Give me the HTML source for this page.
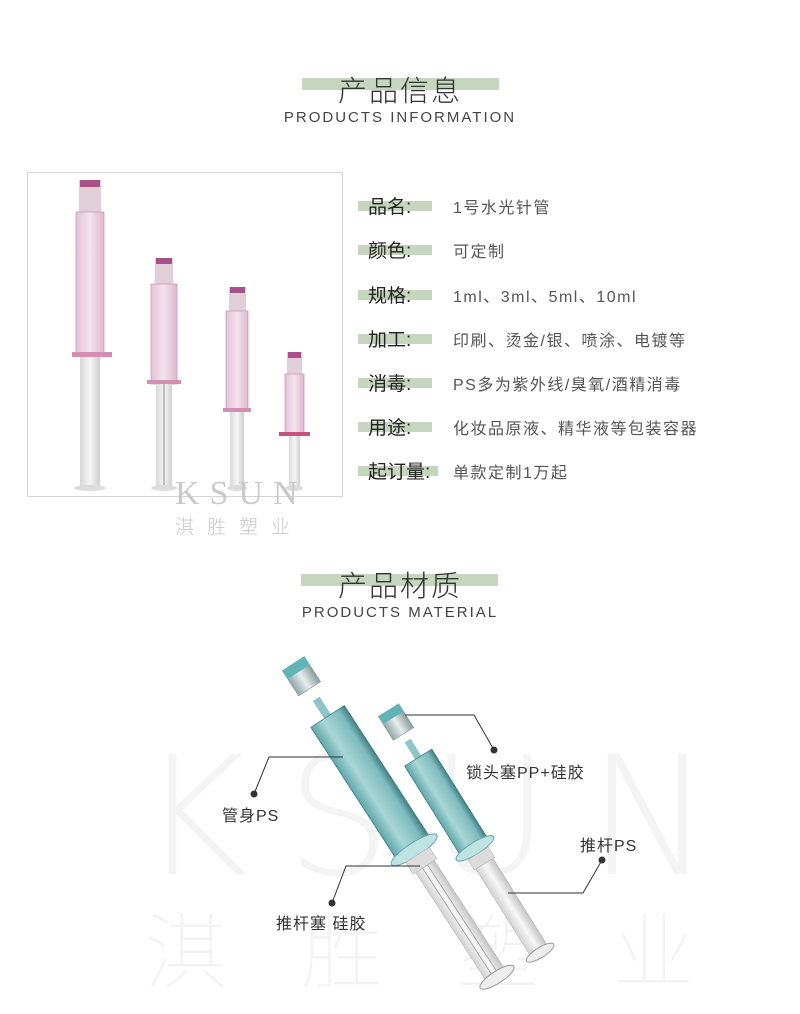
<!DOCTYPE html>
<html><head><meta charset="utf-8">
<style>
*{margin:0;padding:0;box-sizing:border-box}
body{width:800px;height:1014px;background:#fff;position:relative;overflow:hidden;font-family:"Liberation Sans","Noto Sans CJK SC",sans-serif}
.abs{position:absolute}
.bar{position:absolute;background:#c6d5bd}
.title{position:absolute;left:0;width:800px;text-align:center;font-size:29px;color:#333;letter-spacing:2px;font-weight:300}
.sub{position:absolute;left:0;width:800px;text-align:center;font-size:15px;color:#444;letter-spacing:2px}
.lbl{position:absolute;left:368px;font-size:19px;color:#222;white-space:nowrap}
.lb{position:absolute;left:358px;width:74px;height:10px;background:#c6d5bd}
.val{position:absolute;left:453px;font-size:16px;color:#555;letter-spacing:1.5px;white-space:nowrap}
.wm{position:absolute;color:#f3f3f3;font-weight:100}
.cap{position:absolute;font-size:16px;color:#333;white-space:nowrap;letter-spacing:1px}
</style></head><body>

<div class="bar" style="left:302px;top:78px;width:197px;height:12px"></div>
<div class="title" style="top:68px">产品信息</div>
<div class="sub" style="top:109px">PRODUCTS INFORMATION</div>

<div class="abs" style="left:27px;top:172px;width:316px;height:325px;border:1px solid #d4d4d4"></div>
<svg class="abs" style="left:27px;top:172px" width="316" height="370" viewBox="0 0 316 370">
 <defs>
  <linearGradient id="pk" x1="0" x2="1"><stop offset="0" stop-color="#e3c3d6"/><stop offset=".5" stop-color="#f4e2ec"/><stop offset="1" stop-color="#dcb8cc"/></linearGradient>
  <linearGradient id="cl" x1="0" x2="1"><stop offset="0" stop-color="#d8d8d8"/><stop offset=".5" stop-color="#f6f6f6"/><stop offset="1" stop-color="#cfcfcf"/></linearGradient>
 </defs>
 <!-- syringe 1 -->
 <rect x="52" y="8" width="22" height="32" fill="#e0cfd8"/><rect x="53" y="8" width="20" height="7" fill="#a8508a"/>
 <rect x="49" y="40" width="28" height="144" fill="url(#pk)" stroke="#c99ab6" stroke-width=".8"/>
 <rect x="45" y="180" width="40" height="5" fill="#d58db0"/>
 <rect x="53" y="185" width="20" height="130" fill="url(#cl)"/>
 <ellipse cx="63" cy="316" rx="16" ry="3" fill="#ddd"/>
 <!-- syringe 2 -->
 <rect x="128" y="86" width="18" height="26" fill="#e0cfd8"/><rect x="129" y="86" width="16" height="6" fill="#a8508a"/>
 <rect x="124" y="112" width="26" height="100" fill="url(#pk)" stroke="#c99ab6" stroke-width=".8"/>
 <rect x="120" y="208" width="34" height="4" fill="#d58db0"/>
 <rect x="129" y="212" width="16" height="104" fill="url(#cl)"/>
 <line x1="137" y1="212" x2="137" y2="314" stroke="#888" stroke-width="1"/>
 <ellipse cx="137" cy="316" rx="13" ry="3" fill="#ddd"/>
 <!-- syringe 3 -->
 <rect x="202" y="115" width="17" height="24" fill="#e0cfd8"/><rect x="203" y="115" width="15" height="6" fill="#a8508a"/>
 <rect x="199" y="139" width="22" height="100" fill="url(#pk)" stroke="#c99ab6" stroke-width=".8"/>
 <rect x="196" y="236" width="28" height="4" fill="#d58db0"/>
 <rect x="203" y="240" width="14" height="76" fill="url(#cl)"/>
 <ellipse cx="210" cy="316" rx="10" ry="3" fill="#ddd"/>
 <!-- syringe 4 -->
 <rect x="260" y="180" width="15" height="22" fill="#e0cfd8"/><rect x="261" y="180" width="13" height="6" fill="#a8508a"/>
 <rect x="258" y="202" width="19" height="60" fill="url(#pk)" stroke="#c99ab6" stroke-width=".8"/>
 <rect x="252" y="260" width="31" height="4" fill="#c8507f"/>
 <rect x="262" y="264" width="11" height="52" fill="url(#cl)"/>
 <ellipse cx="267" cy="316" rx="9" ry="3" fill="#ddd"/>
 <text x="148" y="332" font-family="Liberation Serif,serif" font-size="34" fill="#c9c9c9" letter-spacing="10">KSUN</text>
 <text x="148" y="361" font-family="Noto Sans CJK SC,sans-serif" font-size="19" fill="#c9c9c9" letter-spacing="13" font-weight="300">淇胜塑业</text>
</svg>

<div class="lb" style="top:201px"></div><div class="lbl" style="top:192px">品名:</div><div class="val" style="top:194px">1号水光针管</div>
<div class="lb" style="top:245px"></div><div class="lbl" style="top:236px">颜色:</div><div class="val" style="top:238px">可定制</div>
<div class="lb" style="top:290px"></div><div class="lbl" style="top:281px">规格:</div><div class="val" style="top:283px">1ml、3ml、5ml、10ml</div>
<div class="lb" style="top:334px"></div><div class="lbl" style="top:325px">加工:</div><div class="val" style="top:327px">印刷、烫金/银、喷涂、电镀等</div>
<div class="lb" style="top:378px"></div><div class="lbl" style="top:369px">消毒:</div><div class="val" style="top:371px">PS多为紫外线/臭氧/酒精消毒</div>
<div class="lb" style="top:422px"></div><div class="lbl" style="top:413px">用途:</div><div class="val" style="top:415px">化妆品原液、精华液等包装容器</div>
<div class="lb" style="top:466px;width:80px"></div><div class="lbl" style="top:457px">起订量:</div><div class="val" style="top:459px">单款定制1万起</div>

<div class="bar" style="left:301px;top:574px;width:197px;height:12px"></div>
<div class="title" style="top:563px">产品材质</div>
<div class="sub" style="top:604px">PRODUCTS MATERIAL</div>

<!-- watermark -->
<div class="wm" style="left:140px;top:735px;font-size:165px;font-family:'DejaVu Sans',sans-serif;font-weight:200;letter-spacing:38px;line-height:1;color:#f4f4f4">KSUN</div>
<div class="wm" style="left:145px;top:905px;font-size:82px;letter-spacing:74px;line-height:1;font-family:'Noto Sans CJK SC',sans-serif;font-weight:100;color:#f3f3f3">淇胜塑业</div>

<svg class="abs" style="left:0;top:0" width="800" height="1014">
 <defs>
  <linearGradient id="tl" x1="0" x2="1"><stop offset="0" stop-color="#5fa7ab"/><stop offset=".35" stop-color="#a9d6d6"/><stop offset=".8" stop-color="#7fbcbf"/><stop offset="1" stop-color="#3f7f84"/></linearGradient>
  <linearGradient id="cp" x1="0" x2="1"><stop offset="0" stop-color="#8fa7a8"/><stop offset=".5" stop-color="#e8eeee"/><stop offset="1" stop-color="#8a9a9b"/></linearGradient>
  <linearGradient id="pl" x1="0" x2="1"><stop offset="0" stop-color="#d2d2d2"/><stop offset=".5" stop-color="#f7f7f7"/><stop offset="1" stop-color="#c4c4c4"/></linearGradient>
 </defs>
 <!-- big syringe -->
 <g transform="translate(302,677) rotate(-33)">
  <rect x="-13" y="-16" width="26" height="30" fill="url(#cp)" stroke="#7a9596" stroke-width=".6"/>
  <rect x="-13" y="-16" width="26" height="10" fill="#5fb4b8"/>
  <rect x="-4" y="26" width="8" height="22" fill="#8cc6c8"/>
  <rect x="-20" y="47" width="40" height="158" fill="url(#tl)" stroke="#3f7f84" stroke-width=".8"/>
  <ellipse cx="0" cy="206" rx="27" ry="7" fill="#bfe2e2" stroke="#63a9ad"/>
  <rect x="-14" y="212" width="28" height="14" fill="#dcdcdc" stroke="#aaa" stroke-width=".5"/>
  <rect x="-11" y="226" width="22" height="132" fill="url(#pl)" stroke="#b5b5b5" stroke-width=".6"/>
  <line x1="-3" y1="226" x2="-3" y2="356" stroke="#999" stroke-width=".8"/>
  <line x1="3" y1="226" x2="3" y2="356" stroke="#999" stroke-width=".8"/>
  <ellipse cx="0" cy="358" rx="20" ry="6" fill="#eee" stroke="#999"/>
 </g>
 <!-- small syringe -->
 <g transform="translate(396,722) rotate(-32)">
  <rect x="-12" y="-14" width="24" height="28" fill="url(#cp)" stroke="#7a9596" stroke-width=".6"/>
  <rect x="-12" y="-14" width="24" height="9" fill="#5fb4b8"/>
  <rect x="-3.5" y="22" width="7" height="20" fill="#8cc6c8"/>
  <rect x="-16" y="42" width="32" height="106" fill="url(#tl)" stroke="#3f7f84" stroke-width=".8"/>
  <ellipse cx="0" cy="149" rx="22" ry="6" fill="#bfe2e2" stroke="#63a9ad"/>
  <rect x="-12" y="155" width="24" height="12" fill="#dcdcdc" stroke="#aaa" stroke-width=".5"/>
  <rect x="-10" y="167" width="20" height="104" fill="url(#pl)" stroke="#b5b5b5" stroke-width=".6"/>
  <ellipse cx="0" cy="272" rx="16" ry="5" fill="#eee" stroke="#999"/>
 </g>
 <!-- leader lines -->
 <g stroke="#333" stroke-width="1" fill="none">
  <polyline points="254,794 269,757 343,757"/>
  <polyline points="494,750 474,715 405,715"/>
  <polyline points="602,860 583,893 508,893"/>
  <polyline points="332,903 346,866 420,866"/>
 </g>
 <g fill="#333">
  <circle cx="254" cy="794" r="3.5"/><circle cx="494" cy="750" r="3.5"/>
  <circle cx="602" cy="860" r="3.5"/><circle cx="332" cy="903" r="3.5"/>
 </g>
</svg>
<div class="cap" style="left:222px;top:802px">管身PS</div>
<div class="cap" style="left:466px;top:759px">锁头塞PP+硅胶</div>
<div class="cap" style="left:580px;top:832px">推杆PS</div>
<div class="cap" style="left:276px;top:910px">推杆塞 硅胶</div>
</body></html>
